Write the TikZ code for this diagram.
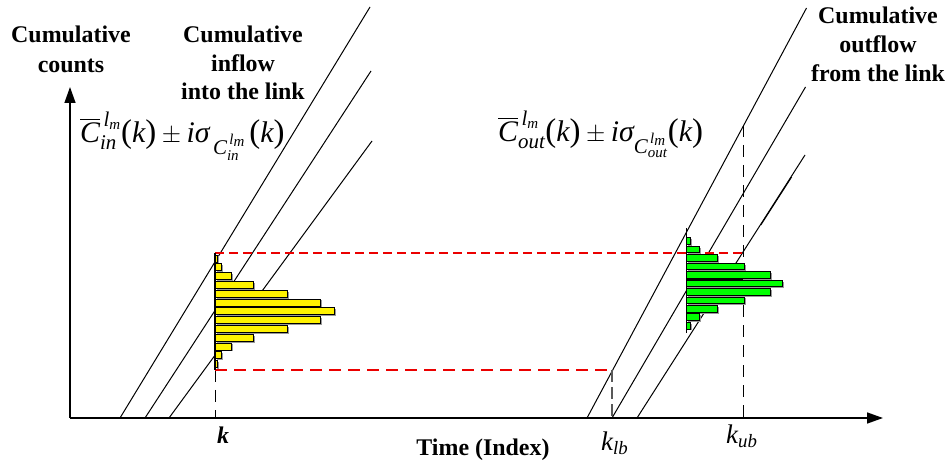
\documentclass[tikz,border=0pt]{standalone}
\usepackage{amsmath}
\usepackage{fontspec}
\setmainfont{Liberation Serif}
\usetikzlibrary{arrows.meta}
\definecolor{guidered}{RGB}{235,0,0}
\newcommand{\ti}[1]{\text{\itshape #1}}
\newcommand{\tu}[1]{\text{\upshape #1}}
\newcommand{\bpar}[1]{\text{\upshape\fontsize{33}{36}\selectfont #1}}
\tikzset{
  axisline/.style={line width=1.4bp,-{Triangle[length=16bp,width=11bp]}},
  flowline/.style={line width=1bp},
  reddash/.style={draw=guidered,line width=1.2bp,dash pattern=on 12bp off 7bp},
  reddashfine/.style={draw=guidered,line width=1.2bp,dash pattern=on 9bp off 5bp},
  blackdash/.style={line width=1bp,dash pattern=on 12bp off 8bp},
  graydash/.style={draw=black!65,line width=1.2bp,dash pattern=on 12bp off 5bp},
  lbl/.style={font=\fontsize{24}{29}\selectfont\bfseries,inner sep=0pt,anchor=base},
  formula/.style={font=\fontsize{30}{36}\selectfont,inner sep=0pt,anchor=base west},
  klabel/.style={font=\fontsize{27}{32}\selectfont,inner sep=0pt,anchor=base west},
  ybar/.style={fill=yellow,draw=black,line width=0.9bp},
  gbar/.style={fill=green,draw=black,line width=0.9bp},
  shadowbar/.style={fill=black!40,draw=none}
}
\newcommand{\histbar}[5]{% style, left x, top y, height, right x
  \fill[shadowbar] ({#2+1.5},{#3+1.5}) rectangle ({#5+1.5},{#3+#4+1.5});
  \draw[#1] (#2,#3) rectangle (#5,{#3+#4});
}
\begin{document}
\begin{tikzpicture}[x=1bp,y=-1bp]
\useasboundingbox (0,0) rectangle (947,464);

% axes
\coordinate (O) at (70,418);
\coordinate (Ytip) at (70,87);
\coordinate (Xtip) at (883,418);
\draw[axisline] (O) -- (Ytip);
\draw[axisline] (O) -- (Xtip);

% inflow lines
\coordinate (a1) at (120,418); \coordinate (b1) at (370,7);
\coordinate (a2) at (145,418); \coordinate (b2) at (371,71);
\coordinate (a3) at (169,418); \coordinate (b3) at (372,141);
\draw[flowline] (a1) -- (b1);
\draw[flowline] (a2) -- (b2);
\draw[flowline] (a3) -- (b3);

% outflow lines
\coordinate (c1) at (587,418); \coordinate (d1) at (806.5,8);
\coordinate (c2) at (612,418); \coordinate (d2) at (805.5,87);
\coordinate (c3) at (637,418); \coordinate (d3) at (805,155);
\draw[flowline] (c1) -- (d1);
\draw[flowline] (c2) -- (d2);
\draw[flowline] (c3) -- (d3);
\draw[flowline] (760.8,225) -- (791.6,177);

% dashed guide lines
\coordinate (kTop) at (215,253);
\coordinate (kBot) at (215,370);
\coordinate (kAx) at (215,418);
\coordinate (ubTop) at (743,125);
\coordinate (ubMid) at (743,253);
\coordinate (ubAx) at (743,418);
\coordinate (lbMid) at (612,370);
\coordinate (lbAx) at (612,418);
\draw[blackdash] (kBot) -- (kAx);
\draw[blackdash] (ubTop) -- (ubAx);
\draw[graydash] (lbMid) -- (lbAx);
\draw[reddashfine] (kTop) -- (ubMid);
\draw[reddash] (kBot) -- (lbMid);

% left histogram (yellow)
\foreach \i/\r in {0/217.5,1/221,2/231.3,3/253.7,4/287.3,5/320,6/334.3,7/320,8/287.3,9/253.7,10/231.3,11/221,12/217.5}{
  \histbar{ybar}{215}{255+8.8*\i}{7}{\r}
}
\draw[line width=1.2bp] (kTop) -- (kBot);

% right histogram (green)
\foreach \i/\r in {0/690.7,1/699.3,2/717.3,3/744.7,4/770.7,5/782.3,6/770.7,7/744.7,8/717.3,9/699.3,10/690.7}{
  \histbar{gbar}{686.7}{237.7+8.47*\i}{6.6}{\r}
}
\coordinate (gTop) at (686.7,228);
\coordinate (gBot) at (686.7,333);
\draw[line width=1.2bp] (gTop) -- (gBot);
\coordinate (mL) at (686.7,279.5);
\coordinate (mR) at (743,279.5);
\draw[line width=1.2bp] (mL) -- (mR);

% text labels
\node[lbl] (cc1) at (71,43) {Cumulative};
\node[lbl] (cc2) at (71,73) {counts};
\node[lbl] (in1) at (243,43) {Cumulative};
\node[lbl] (in2) at (243,72) {inflow};
\node[lbl] (in3) at (243,100) {into the link};
\node[lbl] (out1) at (878,24) {Cumulative};
\node[lbl] (out2) at (878,53) {outflow};
\node[lbl] (out3) at (878,82) {from the link};
\node[lbl] (time) at (483,455) {Time (Index)};
\node[lbl,font=\fontsize{24}{29}\selectfont\bfseries\itshape] (k) at (223,443) {k};

\node[formula] (fin) at (80,143) {$\overline{\ti{C}}_{\ti{in}}^{\,\ti{l}_{\ti{m}}}\bpar{(}\ti{k}\bpar{)}\pm\ti{i}\ti{σ}_{\,\ti{C}_{\ti{in}}^{\,\ti{l}_{\ti{m}}}\,}\bpar{(}\ti{k}\bpar{)}$};
\node[formula] (fout) at (498,142) {$\overline{\ti{C}}_{\ti{out}}^{\,\ti{l}_{\ti{m}}}\bpar{(}\ti{k}\bpar{)}\pm\ti{i}\ti{σ}_{\ti{C}_{\ti{out}}^{\,\ti{l}_{\ti{m}}}}\bpar{(}\ti{k}\bpar{)}$};

\node[klabel] (klb) at (601,450) {$\ti{k}_{\ti{lb}}$};
\node[klabel] (kub) at (726,443) {$\ti{k}_{\ti{ub}}$};
\end{tikzpicture}
\end{document}
